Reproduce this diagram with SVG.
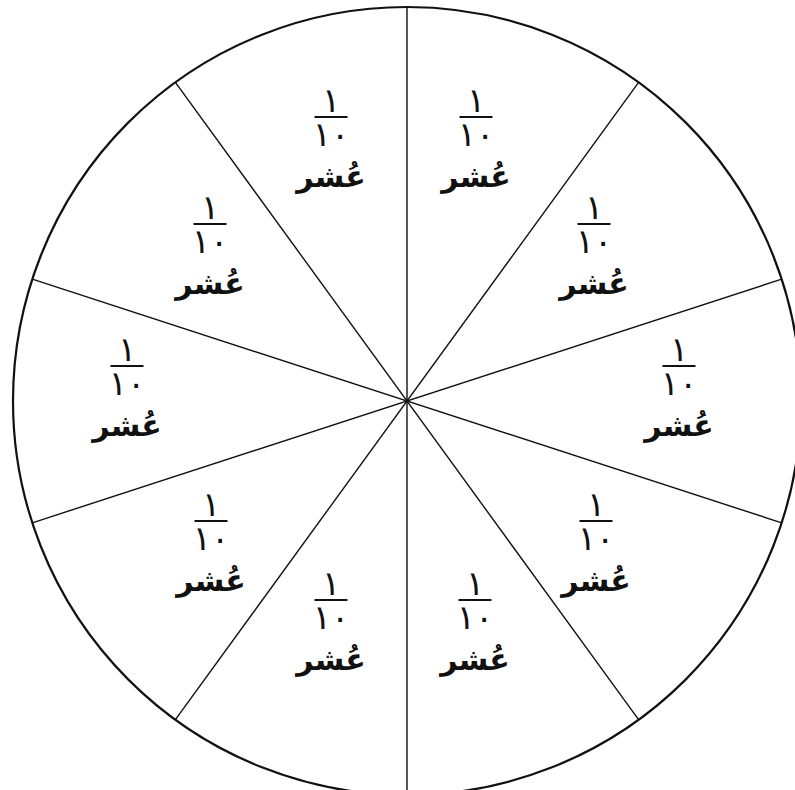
<svg xmlns="http://www.w3.org/2000/svg" width="795" height="790" viewBox="0 0 795 790">
<style>
.rim{fill:#fff;stroke:#111;stroke-width:2.2}
.ray{stroke:#111;stroke-width:1.4;fill:none}
.bar{stroke:#111;stroke-width:2}
.num{font-family:"DejaVu Sans",sans-serif;font-size:34px;fill:#111;text-anchor:middle}
.word{font-family:"DejaVu Sans",sans-serif;font-size:30px;font-weight:bold;fill:#111;text-anchor:middle}
</style>
<defs>
<g id="lab">
<text class="num" x="0" y="-5">١</text>
<line class="bar" x1="-16.5" y1="0" x2="16.5" y2="0"/>
<text class="num" x="0" y="29">١٠</text>
<text class="word" x="0" y="70">عُشر</text>
</g>
</defs>
<rect width="795" height="790" fill="#fff"/>
<circle id="rim" class="rim" cx="407" cy="401" r="394"/>
<g id="connectors">
<line class="ray" x1="407" y1="7" x2="407" y2="795"/>
<line class="ray" x1="638.6" y1="82.3" x2="175.4" y2="719.7"/>
<line class="ray" x1="781.7" y1="279.2" x2="32.3" y2="522.8"/>
<line class="ray" x1="781.7" y1="522.8" x2="32.3" y2="279.2"/>
<line class="ray" x1="638.6" y1="719.7" x2="175.4" y2="82.3"/>
</g>
<g id="s1"><use href="#lab" x="476" y="117"/></g>
<g id="s2"><use href="#lab" x="594" y="224"/></g>
<g id="s3"><use href="#lab" x="679" y="366"/></g>
<g id="s4"><use href="#lab" x="596" y="521"/></g>
<g id="s5"><use href="#lab" x="475" y="600"/></g>
<g id="s6"><use href="#lab" x="331" y="600"/></g>
<g id="s7"><use href="#lab" x="211" y="521"/></g>
<g id="s8"><use href="#lab" x="127" y="366"/></g>
<g id="s9"><use href="#lab" x="210" y="224"/></g>
<g id="s10"><use href="#lab" x="331" y="117"/></g>
</svg>
